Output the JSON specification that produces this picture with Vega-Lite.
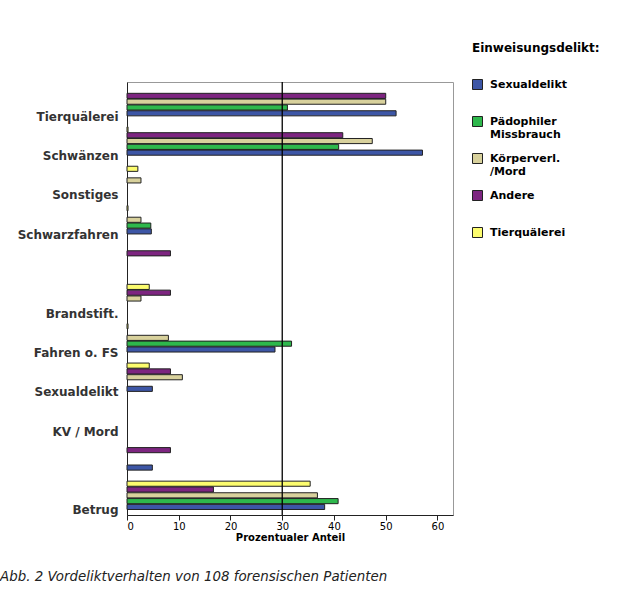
{
  "$schema": "https://vega.github.io/schema/vega-lite/v6.json",
  "width": 326,
  "height": 433,
  "autosize": {"type": "none"},
  "padding": {"left": 127, "top": 82, "right": 167, "bottom": 82},
  "background": "white",
  "title": {
    "text": "Abb. 2 Vordeliktverhalten von 108 forensischen Patienten",
    "orient": "bottom", "anchor": "start", "frame": "group",
    "dx": -127, "offset": 28,
    "font": "DejaVu Sans", "fontSize": 13.4, "fontStyle": "italic", "fontWeight": "normal", "color": "#222"
  },
  "config": {"view": {"stroke": "#999", "strokeWidth": 1}, "font": "DejaVu Sans"},
  "layer": [
    {
      "data": {"values": [
        {"delikt": "Tierquälerei", "typ": "Andere", "anteil": 50},
        {"delikt": "Tierquälerei", "typ": "Körperverl. /Mord", "anteil": 50},
        {"delikt": "Tierquälerei", "typ": "Pädophiler Missbrauch", "anteil": 31},
        {"delikt": "Tierquälerei", "typ": "Sexualdelikt", "anteil": 52},
        {"delikt": "Schwänzen", "typ": "Tierquälerei", "anteil": 0.2},
        {"delikt": "Schwänzen", "typ": "Andere", "anteil": 41.7},
        {"delikt": "Schwänzen", "typ": "Körperverl. /Mord", "anteil": 47.4},
        {"delikt": "Schwänzen", "typ": "Pädophiler Missbrauch", "anteil": 40.9},
        {"delikt": "Schwänzen", "typ": "Sexualdelikt", "anteil": 57.1},
        {"delikt": "Sonstiges", "typ": "Tierquälerei", "anteil": 2.1},
        {"delikt": "Sonstiges", "typ": "Körperverl. /Mord", "anteil": 2.7},
        {"delikt": "Schwarzfahren", "typ": "Tierquälerei", "anteil": 0.2},
        {"delikt": "Schwarzfahren", "typ": "Körperverl. /Mord", "anteil": 2.7},
        {"delikt": "Schwarzfahren", "typ": "Pädophiler Missbrauch", "anteil": 4.6},
        {"delikt": "Schwarzfahren", "typ": "Sexualdelikt", "anteil": 4.7},
        {"delikt": "k.A. 1", "typ": "Andere", "anteil": 8.4},
        {"delikt": "Brandstift.", "typ": "Tierquälerei", "anteil": 4.3},
        {"delikt": "Brandstift.", "typ": "Andere", "anteil": 8.4},
        {"delikt": "Brandstift.", "typ": "Körperverl. /Mord", "anteil": 2.7},
        {"delikt": "Fahren o. FS", "typ": "Tierquälerei", "anteil": 0.2},
        {"delikt": "Fahren o. FS", "typ": "Körperverl. /Mord", "anteil": 8.0},
        {"delikt": "Fahren o. FS", "typ": "Pädophiler Missbrauch", "anteil": 31.8},
        {"delikt": "Fahren o. FS", "typ": "Sexualdelikt", "anteil": 28.6},
        {"delikt": "Sexualdelikt", "typ": "Tierquälerei", "anteil": 4.3},
        {"delikt": "Sexualdelikt", "typ": "Andere", "anteil": 8.4},
        {"delikt": "Sexualdelikt", "typ": "Körperverl. /Mord", "anteil": 10.7},
        {"delikt": "Sexualdelikt", "typ": "Sexualdelikt", "anteil": 4.9},
        {"delikt": "k.A. 2", "typ": "Andere", "anteil": 8.4},
        {"delikt": "k.A. 2", "typ": "Sexualdelikt", "anteil": 4.9},
        {"delikt": "Betrug", "typ": "Tierquälerei", "anteil": 35.4},
        {"delikt": "Betrug", "typ": "Andere", "anteil": 16.7},
        {"delikt": "Betrug", "typ": "Körperverl. /Mord", "anteil": 36.8},
        {"delikt": "Betrug", "typ": "Pädophiler Missbrauch", "anteil": 40.8},
        {"delikt": "Betrug", "typ": "Sexualdelikt", "anteil": 38.2}
      ]},
      "mark": {"type": "bar", "stroke": "#222", "strokeWidth": 1},
      "encoding": {
        "y": {
          "field": "delikt", "type": "nominal",
          "scale": {"domain": ["Tierquälerei", "Schwänzen", "Sonstiges", "Schwarzfahren", "k.A. 1", "Brandstift.", "Fahren o. FS", "Sexualdelikt", "KV / Mord", "k.A. 2", "Betrug"], "paddingInner": 0.28, "paddingOuter": 0.14},
          "axis": {
            "title": null, "ticks": false, "domainColor": "#222",
            "labelFont": "DejaVu Sans", "labelFontSize": 12, "labelFontWeight": "bold", "labelColor": "#333",
            "labelPadding": 9, "labelOffset": 15,
            "labelExpr": "indexof(datum.label, 'k.A.') == 0 ? '' : datum.label"
          }
        },
        "yOffset": {
          "field": "typ", "type": "nominal",
          "scale": {"domain": ["Tierquälerei", "Andere", "Körperverl. /Mord", "Pädophiler Missbrauch", "Sexualdelikt"], "paddingInner": 0.12}
        },
        "x": {
          "field": "anteil", "type": "quantitative",
          "scale": {"domain": [0, 63], "nice": false},
          "axis": {
            "title": "Prozentualer Anteil", "values": [0, 10, 20, 30, 40, 50, 60], "grid": false,
            "tickColor": "#222", "tickSize": 5, "domainColor": "#222",
            "labelFont": "DejaVu Sans", "labelFontSize": 10, "labelColor": "#000", "labelPadding": 1,
            "titleFont": "DejaVu Sans", "titleFontSize": 10, "titleFontWeight": "bold", "titleColor": "#000", "titlePadding": 1
          }
        },
        "color": {
          "field": "typ", "type": "nominal",
          "scale": {"domain": ["Sexualdelikt", "Pädophiler Missbrauch", "Körperverl. /Mord", "Andere", "Tierquälerei"], "range": ["#3d56a6", "#2eb84c", "#d8d19c", "#7d2580", "#fcfc6e"]},
          "legend": {
            "title": "Einweisungsdelikt:", "orient": "none", "legendX": 345, "legendY": -39,
            "titleFont": "DejaVu Sans", "titleFontSize": 12, "titleFontWeight": "bold", "titleColor": "#000", "titlePadding": 24,
            "labelFont": "DejaVu Sans", "labelFontSize": 11, "labelFontWeight": "bold", "labelColor": "#000", "labelOffset": 7,
            "symbolType": "square", "symbolSize": 100, "symbolStrokeColor": "#222", "symbolStrokeWidth": 1, "symbolOpacity": 1,
            "gridAlign": "all", "rowPadding": 11,
            "labelExpr": "datum.label == 'Pädophiler Missbrauch' ? ['Pädophiler', 'Missbrauch'] : datum.label == 'Körperverl. /Mord' ? ['Körperverl.', '/Mord'] : datum.label"
          }
        }
      }
    },
    {
      "data": {"values": [{"markierung": 30}]},
      "mark": {"type": "rule", "color": "#000", "strokeWidth": 1.3},
      "encoding": {"x": {"field": "markierung", "type": "quantitative"}}
    }
  ]
}
